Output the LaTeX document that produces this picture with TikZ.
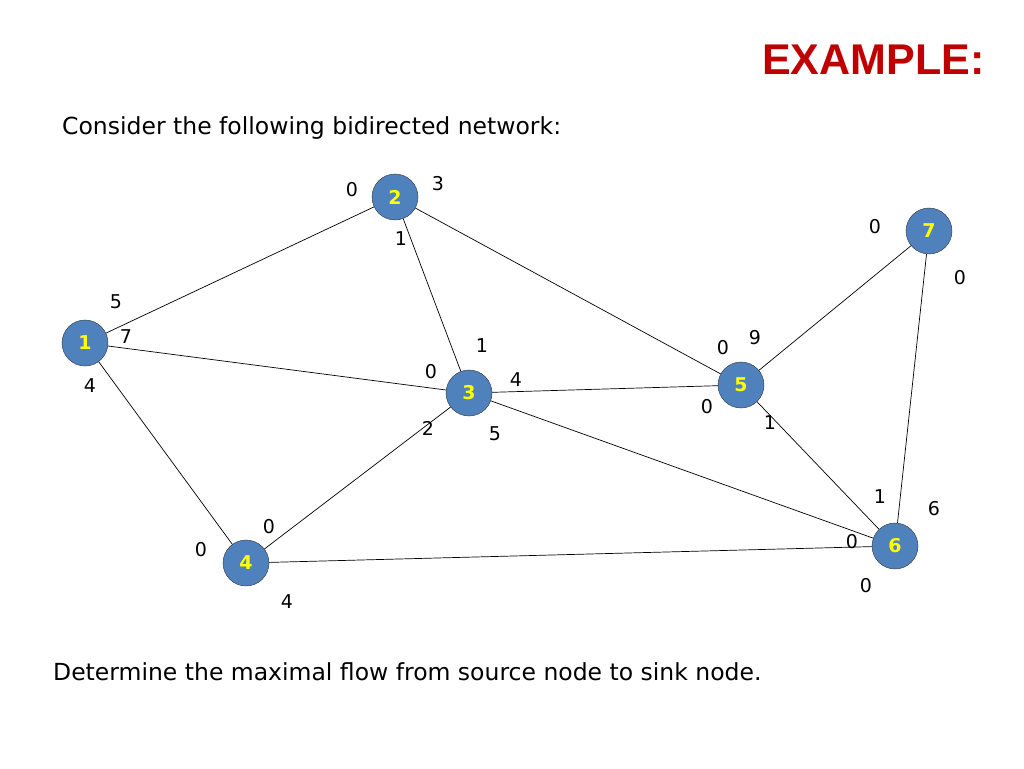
\documentclass[tikz,border=0pt]{standalone}
\usepackage{fontspec}
\setmainfont{DejaVu Sans}
\newfontfamily\titlef{Liberation Sans}
\begin{document}
\begin{tikzpicture}[x=1pt,y=-1pt,
  nd/.style={circle,draw=black!80,fill={rgb,255:red,79;green,129;blue,189},minimum size=46pt,inner sep=0pt,text={rgb,255:red,255;green,255;blue,0},font=\fontsize{19}{19}\selectfont\bfseries},
  lb/.style={font=\fontsize{19}{19}\selectfont,inner sep=0pt},
  ed/.style={draw=black,line width=0.7pt}]
\useasboundingbox (0,0) rectangle (1024,768);
\node[font=\titlef\fontsize{43}{43}\selectfont\bfseries,text={rgb,255:red,192;green,0;blue,0},anchor=east] (t) at (988,60) {EXAMPLE:};
\node[font=\fontsize{23.5}{24}\selectfont,anchor=west,inner sep=0pt] (c) at (62,128) {Consider the following bidirected network:};
\node[font=\fontsize{23.5}{24}\selectfont,anchor=west,inner sep=0pt] (d) at (53,672) {Determine the maximal flow from source node to sink node.};
\node[nd] (n1) at (85,343) {1};
\node[nd] (n2) at (395,197) {2};
\node[nd] (n3) at (469,393) {3};
\node[nd] (n4) at (246,563) {4};
\node[nd] (n5) at (741,385) {5};
\node[nd] (n6) at (895,546) {6};
\node[nd] (n7) at (929,231) {7};
\foreach \a/\b in {n1/n2,n1/n3,n1/n4,n2/n3,n2/n5,n3/n5,n3/n4,n3/n6,n5/n7,n5/n6,n7/n6,n4/n6}
  \draw[ed] (\a) -- (\b);
\foreach \x/\y/\t [count=\i] in {116/302/5,126/337/7,90/386/4,352/190/0,438/184/3,401/239/1,482/346/1,431/372/0,516/380/4,428/428/2,495/434/5,269/527/0,201/550/0,287/602/4,723/348/0,755/338/9,707/407/0,770/423/1,880/497/1,934/509/6,852/542/0,866/586/0,875/227/0,960/278/0}
  \node[lb] (l\i) at (\x,\y) {\t};
\end{tikzpicture}
\end{document}
